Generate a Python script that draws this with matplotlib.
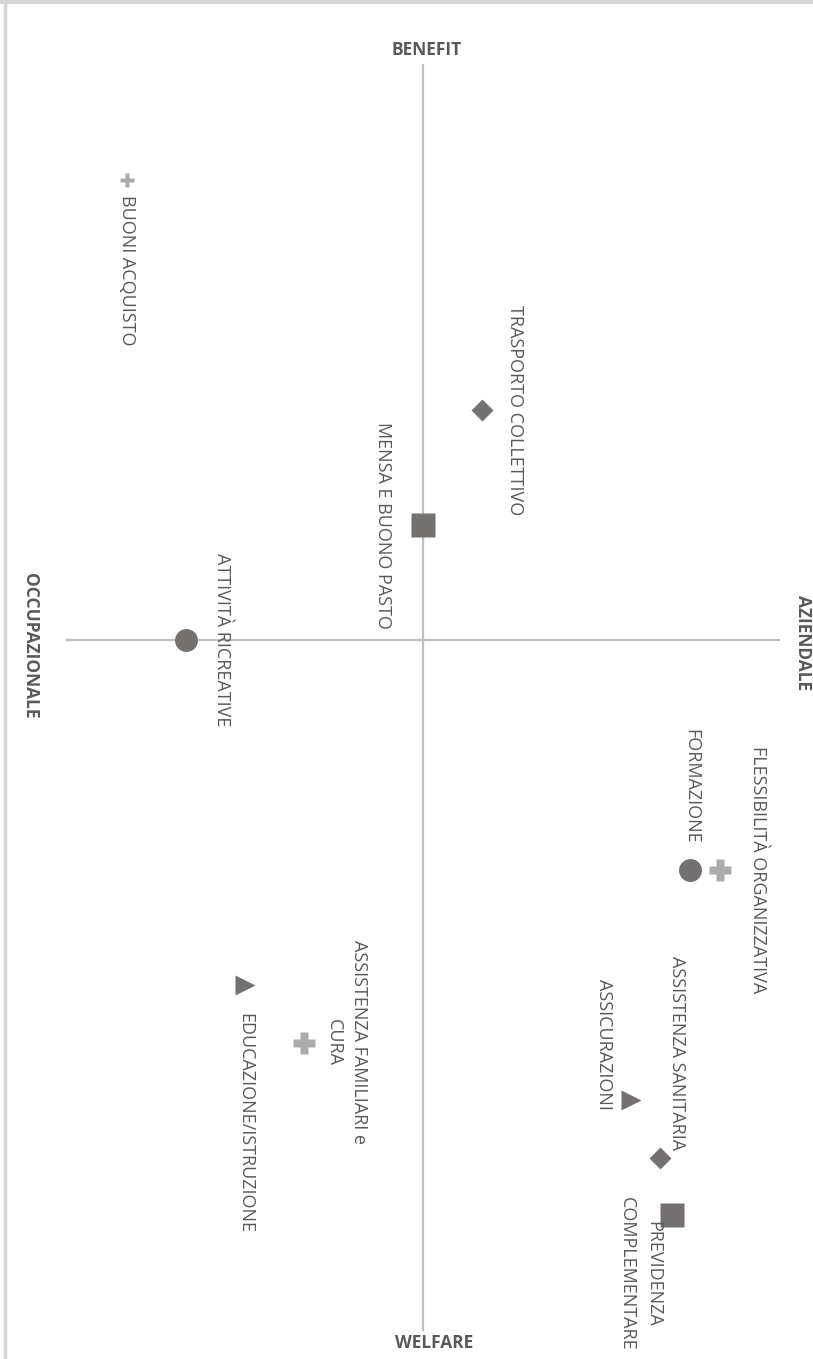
import matplotlib.pyplot as plt
from matplotlib.lines import Line2D

DPI = 100
FIG_W, FIG_H = 813, 1359

COLOR_DARK = "#767171"
COLOR_LIGHT = "#AEAAAA"
COLOR_AXIS = "#BFBFBF"
COLOR_TEXT = "#595959"

# data: x = occupazionale (-) / aziendale (+), y = welfare (-) / benefit (+)
labels = [
    "BUONI ACQUISTO",
    "TRASPORTO COLLETTIVO",
    "MENSA E BUONO PASTO",
    "ATTIVITÀ RICREATIVE",
    "FORMAZIONE",
    "FLESSIBILITÀ ORGANIZZATIVA",
    "ASSISTENZA FAMILIARI e\nCURA",
    "EDUCAZIONE/ISTRUZIONE",
    "ASSICURAZIONI",
    "ASSISTENZA SANITARIA",
    "PREVIDENZA\nCOMPLEMENTARE",
]
x_vals = [-5.0, 1.0, 0.0, -4.0, 4.5, 5.0, -2.0, -3.0, 3.5, 4.0, 4.2]
y_vals = [4.0, 2.0, 1.0, 0.0, -2.0, -2.0, -3.5, -3.0, -4.0, -4.5, -5.0]

axis_labels = ["BENEFIT", "WELFARE", "OCCUPAZIONALE", "AZIENDALE"]

# marker style per point
markers = ["P", "D", "s", "o", "o", "P", "P", ">", ">", "D", "s"]
msizes = [10, 11, 17, 16.5, 16.5, 16, 16, 15, 15, 11, 17]
colors = [COLOR_LIGHT, COLOR_DARK, COLOR_DARK, COLOR_DARK, COLOR_DARK,
          COLOR_LIGHT, COLOR_LIGHT, COLOR_DARK, COLOR_DARK, COLOR_DARK, COLOR_DARK]
# label placement: pixel offset from marker and alignment of rotated text
label_pos = [
    ((0, -15), "center", "top"),
    ((33, 0), "center", "center"),
    ((-40, 0), "center", "center"),
    ((36, 0), "center", "center"),
    ((1, 26), "center", "bottom"),
    ((38, 0), "center", "center"),
    ((42, 0), "center", "center"),
    ((0, -28), "center", "top"),
    ((-27, -10), "center", "bottom"),
    ((17, 7), "center", "bottom"),
    ((-32, 18), "center", "top"),
]

X_MIN, X_MAX = -6, 6
Y_MIN, Y_MAX = -6, 5
PX_X, PX_Y = 59.3, 115.0  # pixels per data unit
CX, CY = 423, 640         # pixel position of the origin

fig = plt.figure(figsize=(FIG_W / DPI, FIG_H / DPI), dpi=DPI)
ax = fig.add_axes([0, 0, 1, 1])
ax.set_xlim(-CX / PX_X, (FIG_W - CX) / PX_X)
ax.set_ylim(-(FIG_H - CY) / PX_Y, CY / PX_Y)
ax.axis("off")

# frame lines of the original picture
fig.add_artist(Line2D([0, 1], [1 - 2 / FIG_H] * 2, color="#D4D4D4", lw=3, transform=fig.transFigure))
fig.add_artist(Line2D([5 / FIG_W] * 2, [0, 1], color="#D4D4D4", lw=2.5, transform=fig.transFigure))

ax.plot([X_MIN, X_MAX], [0, 0], color=COLOR_AXIS, lw=1.6, zorder=1)
ax.plot([0, 0], [Y_MIN, Y_MAX], color=COLOR_AXIS, lw=1.6, zorder=1)

for x, y, m, ms, c in zip(x_vals, y_vals, markers, msizes, colors):
    ax.plot([x], [y], marker=m, ms=ms, color=c, mec="none", zorder=3)

font = ["Open Sans", "DejaVu Sans"]
for x, y, txt, ((dx, dy), ha, va) in zip(x_vals, y_vals, labels, label_pos):
    ax.annotate(txt, (x, y), xytext=(dx, dy), textcoords="offset pixels",
                rotation=270, ha=ha, va=va, multialignment="center",
                fontsize=13, color=COLOR_TEXT, family=font, linespacing=1.55)

bold = dict(fontsize=12.5, fontweight="bold", color=COLOR_TEXT, family=font)
ax.annotate(axis_labels[0], (0, Y_MAX), xytext=(4, 15), textcoords="offset pixels",
            ha="center", va="center", **bold)
ax.annotate(axis_labels[1], (0, Y_MIN), xytext=(11, -13), textcoords="offset pixels",
            ha="center", va="center", **bold)
ax.annotate(axis_labels[2], (X_MIN, 0), xytext=(-37, -6), textcoords="offset pixels",
            ha="center", va="center", rotation=270, **bold)
ax.annotate(axis_labels[3], (X_MAX, 0), xytext=(24, -3), textcoords="offset pixels",
            ha="center", va="center", rotation=270, **bold)

fig.savefig("out.png", dpi=DPI)
